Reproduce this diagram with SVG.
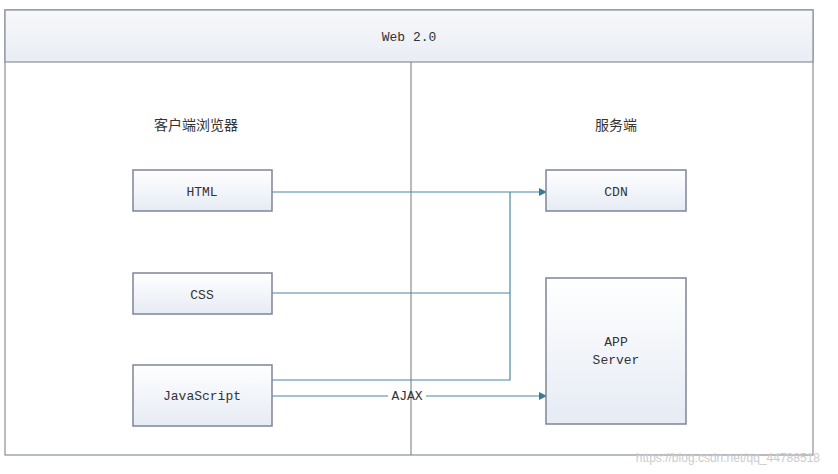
<svg xmlns="http://www.w3.org/2000/svg" width="838" height="474" viewBox="0 0 838 474">
<defs>
<linearGradient id="g" x1="0" y1="0" x2="0" y2="1"><stop offset="0" stop-color="#ffffff"/><stop offset="1" stop-color="#e6ebf4"/></linearGradient>
<linearGradient id="hg" x1="0" y1="0" x2="0" y2="1"><stop offset="0" stop-color="#f7f8fb"/><stop offset="1" stop-color="#e9edf4"/></linearGradient>
<marker id="a" markerWidth="8" markerHeight="8" refX="7" refY="4" orient="auto" markerUnits="userSpaceOnUse"><path d="M0,0 L8,4 L0,8 z" fill="#3a7a90"/></marker>
<style>
.box{fill:url(#g);stroke:#7d8596;stroke-width:1.5}
.t{font-family:"Liberation Mono","Noto Sans CJK SC",monospace;font-size:13px;fill:#333;text-anchor:middle}
.c{font-family:"Noto Sans CJK SC",sans-serif;font-size:14px;fill:#333;text-anchor:middle}
.ln{stroke:#4a8a9c;stroke-width:1.2;fill:none}
</style>
</defs>
<rect width="838" height="474" fill="#fff"/>
<g id="frame">
<rect x="5" y="10" width="808" height="445" fill="#fff" stroke="#8a8f99" stroke-width="1.2"/>
<rect x="5" y="10" width="808" height="52" fill="url(#hg)" stroke="#8a8f99" stroke-width="1.2"/>
<text class="t" x="409" y="41">Web 2.0</text>
<line x1="411" y1="62" x2="411" y2="455" stroke="#777" stroke-width="1"/>
<text class="c" x="196" y="130">客户端浏览器</text>
<text class="c" x="616" y="130">服务端</text>
</g>
<g id="connectors">
<path class="ln" d="M272,192 H546" marker-end="url(#a)"/>
<path class="ln" d="M272,293 H510"/>
<path class="ln" d="M272,380 H510 V192"/>
<path class="ln" d="M272,396 H388 M426,396 H546" marker-end="url(#a)"/>
<text class="t" x="407" y="400">AJAX</text>
</g>
<g id="html"><rect class="box" x="133" y="170" width="139" height="41"/><text class="t" x="202" y="196">HTML</text></g>
<g id="css"><rect class="box" x="133" y="273" width="139" height="41"/><text class="t" x="202" y="299">CSS</text></g>
<g id="js"><rect class="box" x="133" y="365" width="139" height="61"/><text class="t" x="202" y="400">JavaScript</text></g>
<g id="cdn"><rect class="box" x="546" y="170" width="140" height="41"/><text class="t" x="616" y="196">CDN</text></g>
<g id="app"><rect class="box" x="546" y="278" width="140" height="146"/><text class="t" x="616" y="346">APP</text><text class="t" x="616" y="364">Server</text></g>
<text x="820" y="462" font-family="Liberation Sans,sans-serif" font-size="12" fill="#ccc" text-anchor="end">https://blog.csdn.net/qq_44788518</text>
</svg>
